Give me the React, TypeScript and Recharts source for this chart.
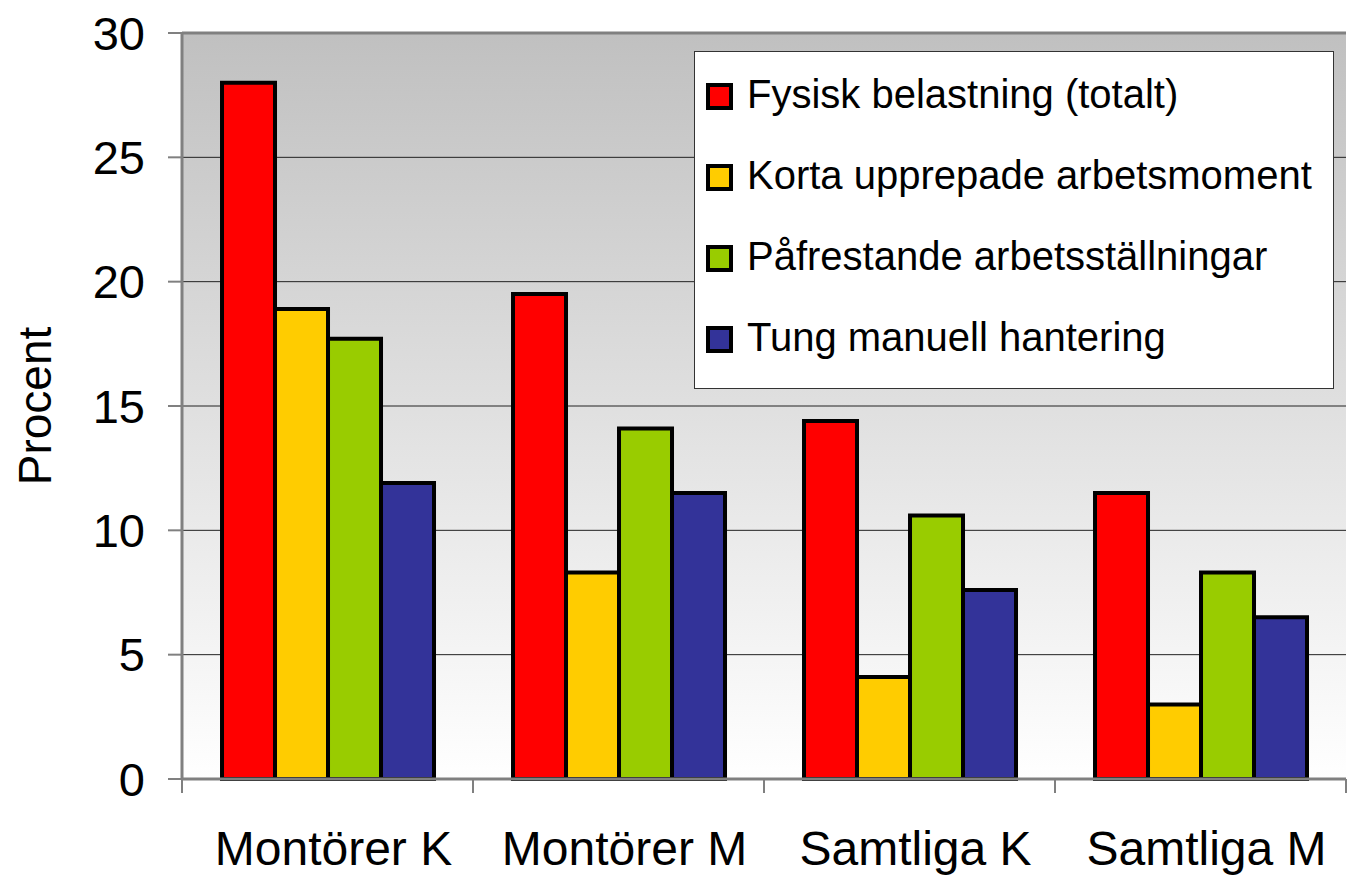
import React from 'react';
import { BarChart, Bar, XAxis, YAxis, CartesianGrid, Legend, ReferenceLine } from 'recharts';

const categories = ['Montörer K', 'Montörer M', 'Samtliga K', 'Samtliga M'];
const fysiskBelastning = [28.0, 19.5, 14.4, 11.5];
const kortaUpprepade = [18.9, 8.3, 4.1, 3.0];
const pafrestande = [17.7, 14.1, 10.6, 8.3];
const tungManuell = [11.9, 11.5, 7.6, 6.5];
const yTicks = [0, 5, 10, 15, 20, 25, 30];

const seriesKeys = ['fysisk', 'korta', 'pafrestande', 'tung'];
const seriesNames = [
  'Fysisk belastning (totalt)',
  'Korta upprepade arbetsmoment',
  'Påfrestande arbetsställningar',
  'Tung manuell hantering',
];
const seriesColors = ['#FF0000', '#FFCC00', '#99CC00', '#333399'];

const data = categories.map((name, i) => ({
  name,
  fysisk: fysiskBelastning[i],
  korta: kortaUpprepade[i],
  pafrestande: pafrestande[i],
  tung: tungManuell[i],
}));

const W = 1349;
const H = 875;
const MARGIN = { top: 33, right: 3, left: 0, bottom: 0 };
const Y_AXIS_W = 182;
const X_AXIS_H = 96;
const PLOT_W = W - MARGIN.left - MARGIN.right - Y_AXIS_W;
const FONT = '"Liberation Sans", Arial, sans-serif';

const XTick = (props: any) => {
  const { x, y, payload, index } = props;
  const half = PLOT_W / categories.length / 2;
  const isLast = index === categories.length - 1;
  return (
    <g>
      <line x1={x - half} x2={x - half} y1={y} y2={y + 14} stroke="#808080" strokeWidth={2} />
      {isLast && <line x1={x + half} x2={x + half} y1={y} y2={y + 14} stroke="#808080" strokeWidth={2} />}
      <text x={x + 6} y={y + 86} textAnchor="middle" fontSize={48} fill="#000">
        {payload.value}
      </text>
    </g>
  );
};

const LegendBox = () => (
  <div
    style={{
      width: 640,
      height: 338,
      background: '#fff',
      border: '1.5px solid #333',
      boxSizing: 'border-box',
      position: 'relative',
      fontFamily: FONT,
      color: '#000',
    }}
  >
    {seriesNames.map((n, i) => (
      <div
        key={n}
        style={{
          position: 'absolute',
          left: 11,
          top: 31 + i * 81,
          display: 'flex',
          alignItems: 'center',
          height: 27,
          whiteSpace: 'nowrap',
        }}
      >
        <span
          style={{
            display: 'inline-block',
            width: 27,
            height: 27,
            boxSizing: 'border-box',
            border: '4px solid #000',
            background: seriesColors[i],
          }}
        />
        <span style={{ marginLeft: 14, fontSize: 40, lineHeight: '27px', position: 'relative', top: -2 }}>{n}</span>
      </div>
    ))}
  </div>
);

export default function App() {
  return (
    <div style={{ position: 'absolute', left: 0, top: 0, width: W, height: H, background: '#fff', fontFamily: FONT }}>
      <svg width={0} height={0} style={{ position: 'absolute' }}>
        <defs>
          <linearGradient id="plotBg" x1="0" y1="0" x2="0" y2="1">
            <stop offset="0%" stopColor="#c0c0c0" />
            <stop offset="100%" stopColor="#ffffff" />
          </linearGradient>
        </defs>
      </svg>
      <BarChart
        width={W}
        height={H}
        data={data}
        margin={MARGIN}
        barCategoryGap="13.75%"
        barGap={0}
      >
        <CartesianGrid vertical={false} stroke="#222" strokeWidth={1} fill="url(#plotBg)" />
        <ReferenceLine y={30} stroke="#808080" strokeWidth={3} />
        <XAxis
          dataKey="name"
          height={X_AXIS_H}
          tickLine={false}
          tickSize={0}
          tickMargin={0}
          axisLine={{ stroke: '#808080', strokeWidth: 3 }}
          tick={<XTick />}
          interval={0}
        />
        <YAxis
          width={Y_AXIS_W}
          domain={[0, 30]}
          ticks={yTicks}
          interval={0}
          tickSize={14}
          tickMargin={23}
          tickLine={{ stroke: '#808080', strokeWidth: 2 }}
          axisLine={{ stroke: '#808080', strokeWidth: 3 }}
          tick={{ fill: '#000', fontSize: 47 }}
          label={{
            content: (p: any) => {
              const vb = p.viewBox || { y: 33, height: 746 };
              const cy = vb.y + vb.height / 2;
              return (
                <text
                  x={35}
                  y={cy}
                  transform={`rotate(-90 35 ${cy})`}
                  textAnchor="middle"
                  dominantBaseline="central"
                  fontSize={46}
                  fill="#000"
                >
                  Procent
                </text>
              );
            },
          }}
        />
        <Legend
          layout="horizontal"
          verticalAlign="middle"
          align="center"
          content={<LegendBox />}
          wrapperStyle={{ left: 694, top: 51, width: 640, height: 338 }}
        />
        {seriesKeys.map((k, i) => (
          <Bar
            key={k}
            dataKey={k}
            name={seriesNames[i]}
            fill={seriesColors[i]}
            stroke="#000"
            strokeWidth={4}
            isAnimationActive={false}
          />
        ))}
      </BarChart>
    </div>
  );
}
